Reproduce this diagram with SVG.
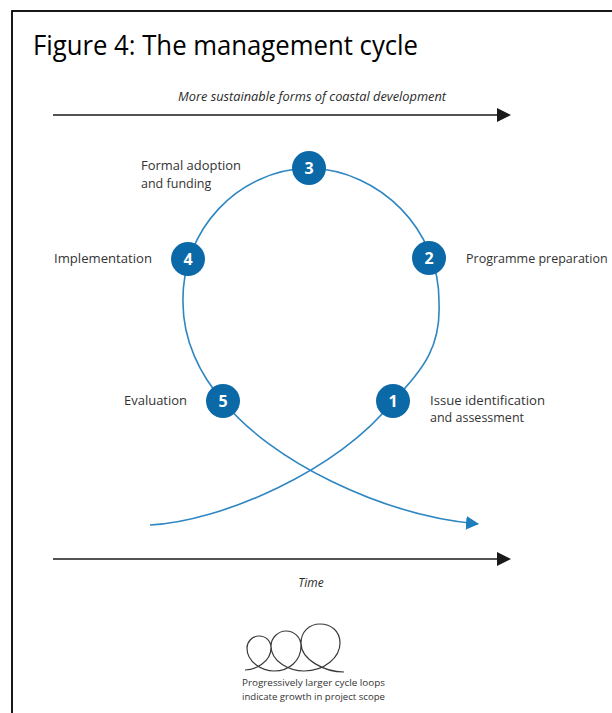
<svg xmlns="http://www.w3.org/2000/svg" width="612" height="713" viewBox="0 0 612 713">
<style>
.lbl{font-family:"Open Sans","Noto Sans","Liberation Sans",sans-serif;font-size:12.5px;font-weight:500;fill:#333333}
.it{font-family:"Open Sans","Noto Sans","Liberation Sans",sans-serif;font-style:italic;font-size:12px;fill:#2a2a2a}
.num{font-family:"Open Sans","Noto Sans","Liberation Sans",sans-serif;font-weight:bold;font-size:16px;fill:#ffffff;text-anchor:middle}
.node{fill:#0b69a7}
.flow{fill:none;stroke:#2e86c2;stroke-width:1.6}
.axis{stroke:#1a1a1a;stroke-width:1.6}
.cap{font-family:"Open Sans","Noto Sans","Liberation Sans",sans-serif;font-size:9.5px;fill:#333}
</style>
<defs>
<marker id="blueHead" viewBox="0 0 13 14" refX="12" refY="7" markerWidth="13" markerHeight="14" markerUnits="userSpaceOnUse" orient="auto">
<polygon points="0,0 13,7 0,14" fill="#1d7dbd"/>
</marker>
</defs>
<rect x="12" y="11" width="640" height="740" fill="#ffffff" stroke="#000" stroke-width="1.8"/>
<text x="33" y="55" font-family="Open Sans, Noto Sans, Liberation Sans, sans-serif" font-size="27" fill="#000" textLength="385" lengthAdjust="spacingAndGlyphs">Figure 4: The management cycle</text>

<g id="axis-top">
<line class="axis" x1="53" y1="115" x2="498" y2="115"/>
<polygon points="497,108 511,115 497,122" fill="#1a1a1a"/>
<text class="it" x="178" y="101" textLength="268" lengthAdjust="spacingAndGlyphs">More sustainable forms of coastal development</text>
</g>

<g id="axis-time">
<line class="axis" x1="53" y1="559" x2="498" y2="559"/>
<polygon points="497,552 511,559 497,566" fill="#1a1a1a"/>
<text class="it" x="311" y="587" text-anchor="middle" font-size="13">Time</text>
</g>

<g id="connectors">
<path class="flow" d="M150,525 C220,522 340,470 393,401 C425,368 441,345 439,303 C440,230 380,170 309,168 C238,170 181,230 183,303 C183,340 200,375 223,401 C270,460 380,515 478,524" marker-end="url(#blueHead)"/>
</g>

<g id="node1">
<circle class="node" cx="393" cy="401" r="17"/>
<text class="num" x="393" y="406.5" font-size="13">1</text>
<text class="lbl" x="430" y="405" textLength="115" lengthAdjust="spacingAndGlyphs">Issue identification</text>
<text class="lbl" x="430" y="422">and assessment</text>
</g>
<g id="node2">
<circle class="node" cx="429" cy="258" r="17"/>
<text class="num" x="429" y="264">2</text>
<text class="lbl" x="466" y="263">Programme preparation</text>
</g>
<g id="node3">
<circle class="node" cx="309" cy="168" r="17"/>
<text class="num" x="309" y="174">3</text>
<text class="lbl" x="141" y="170" textLength="100" lengthAdjust="spacingAndGlyphs">Formal adoption</text>
<text class="lbl" x="141" y="188">and funding</text>
</g>
<g id="node4">
<circle class="node" cx="188" cy="259" r="17"/>
<text class="num" x="188" y="265">4</text>
<text class="lbl" x="54" y="263" textLength="98" lengthAdjust="spacingAndGlyphs">Implementation</text>
</g>
<g id="node5">
<circle class="node" cx="223" cy="401" r="17"/>
<text class="num" x="223" y="407">5</text>
<text class="lbl" x="124" y="405" textLength="63" lengthAdjust="spacingAndGlyphs">Evaluation</text>
</g>

<g id="legend">
<path d="M245,670 C255,670 271,662 271,648 C271,641 266,636 259,636 C252,636 247,642 247,648 C247,662 262,671 274,671 C290,671 301,660 301,646 C301,637 294,631 286,631 C278,631 271,638 271,646 C271,662 290,671 304,671 C325,671 340,657 340,643 C340,631 331,624 320,624 C309,624 301,632 301,643 C301,660 325,672 344,672" fill="none" stroke="#3a3a3a" stroke-width="1.2"/>
<text class="cap" x="242" y="686" textLength="143" lengthAdjust="spacingAndGlyphs">Progressively larger cycle loops</text>
<text class="cap" x="242" y="700" textLength="143" lengthAdjust="spacingAndGlyphs">indicate growth in project scope</text>
</g>
</svg>
